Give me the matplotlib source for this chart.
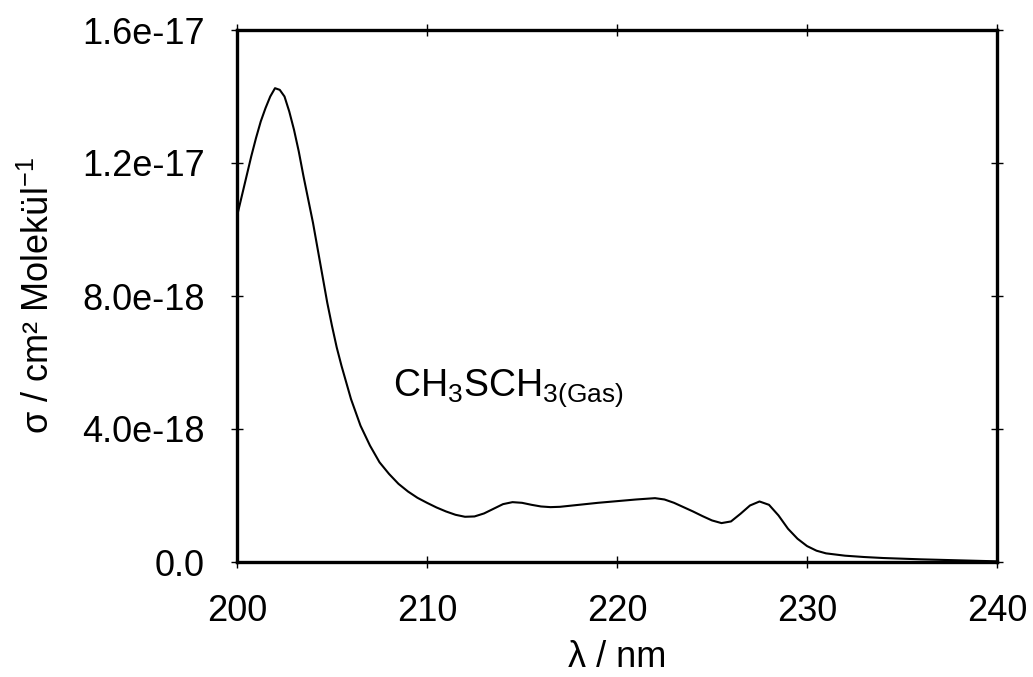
import matplotlib
matplotlib.use("Agg")
import matplotlib.pyplot as plt

plt.rcParams['font.family'] = ['Liberation Sans', 'DejaVu Sans']
plt.rcParams['mathtext.fontset'] = 'custom'
plt.rcParams['mathtext.rm'] = 'Liberation Sans'
plt.rcParams['mathtext.it'] = 'Liberation Sans'

# wavelength in nm, cross section in 1e-18 cm^2
wavelength = [200, 200.25, 200.5, 200.75, 201, 201.25, 201.5, 201.75, 202, 202.25,
              202.5, 202.75, 203, 203.25, 203.5, 203.75, 204, 204.25, 204.5, 204.75,
              205, 205.25, 205.5, 205.75, 206, 206.5, 207, 207.5, 208, 208.5,
              209, 209.5, 210, 210.5, 211, 211.5, 212, 212.5, 213, 213.5,
              214, 214.5, 215, 215.5, 216, 216.5, 217, 218, 219, 220,
              221, 222, 222.5, 223, 223.5, 224, 224.5, 225, 225.5, 226,
              226.5, 227, 227.5, 228, 228.5, 229, 229.5, 230, 230.5, 231,
              232, 233, 234, 236, 238, 240]
sigma_e18 = [10.4, 11.0, 11.6, 12.2, 12.75, 13.25, 13.65, 14.0, 14.25, 14.2,
             14.0, 13.55, 13.0, 12.35, 11.6, 10.9, 10.2, 9.4, 8.6, 7.8,
             7.1, 6.45, 5.9, 5.4, 4.9, 4.1, 3.5, 3.0, 2.65, 2.35,
             2.12, 1.93, 1.78, 1.64, 1.52, 1.42, 1.36, 1.37, 1.46, 1.6,
             1.74, 1.8, 1.78, 1.72, 1.67, 1.65, 1.66, 1.72, 1.78, 1.83,
             1.88, 1.92, 1.88, 1.78, 1.65, 1.52, 1.38, 1.25, 1.17, 1.22,
             1.45, 1.7, 1.82, 1.72, 1.4, 1.0, 0.7, 0.48, 0.34, 0.26,
             0.19, 0.15, 0.12, 0.08, 0.05, 0.02]
sigma = [v * 1e-18 for v in sigma_e18]

x_ticks = [200, 210, 220, 230, 240]
y_ticks = [0.0, 4e-18, 8e-18, 1.2e-17, 1.6e-17]
y_tick_labels = ['0.0', '4.0e-18', '8.0e-18', '1.2e-17', '1.6e-17']

fig = plt.figure(figsize=(10.33, 6.77), dpi=100)
ax = fig.add_axes([237 / 1033, 1 - 562 / 677, 760 / 1033, 532 / 677])

ax.plot(wavelength, sigma, color='black', linewidth=1.5)

ax.set_xlim(200, 240)
ax.set_ylim(0, 1.6e-17)
ax.set_xticks(x_ticks)
ax.set_yticks(y_ticks)
ax.set_yticklabels(y_tick_labels)

for sp in ax.spines.values():
    sp.set_linewidth(2.4)

ax.tick_params(direction='inout', length=8, width=1, top=True, right=True,
               labelsize=26)
ax.tick_params(axis='x', pad=19)
ax.tick_params(axis='y', pad=19)

ax.set_xlabel('λ / nm', fontsize=26, labelpad=8)
ax.set_ylabel('σ / cm² Molekül$^{-1}$', fontsize=26, labelpad=18)

ax.text(208.2, 5.0e-18, r'CH$_3$SCH$_{3\mathrm{(Gas)}}$', fontsize=27,
        va='baseline', ha='left')

fig.savefig('out.png', dpi=100)
